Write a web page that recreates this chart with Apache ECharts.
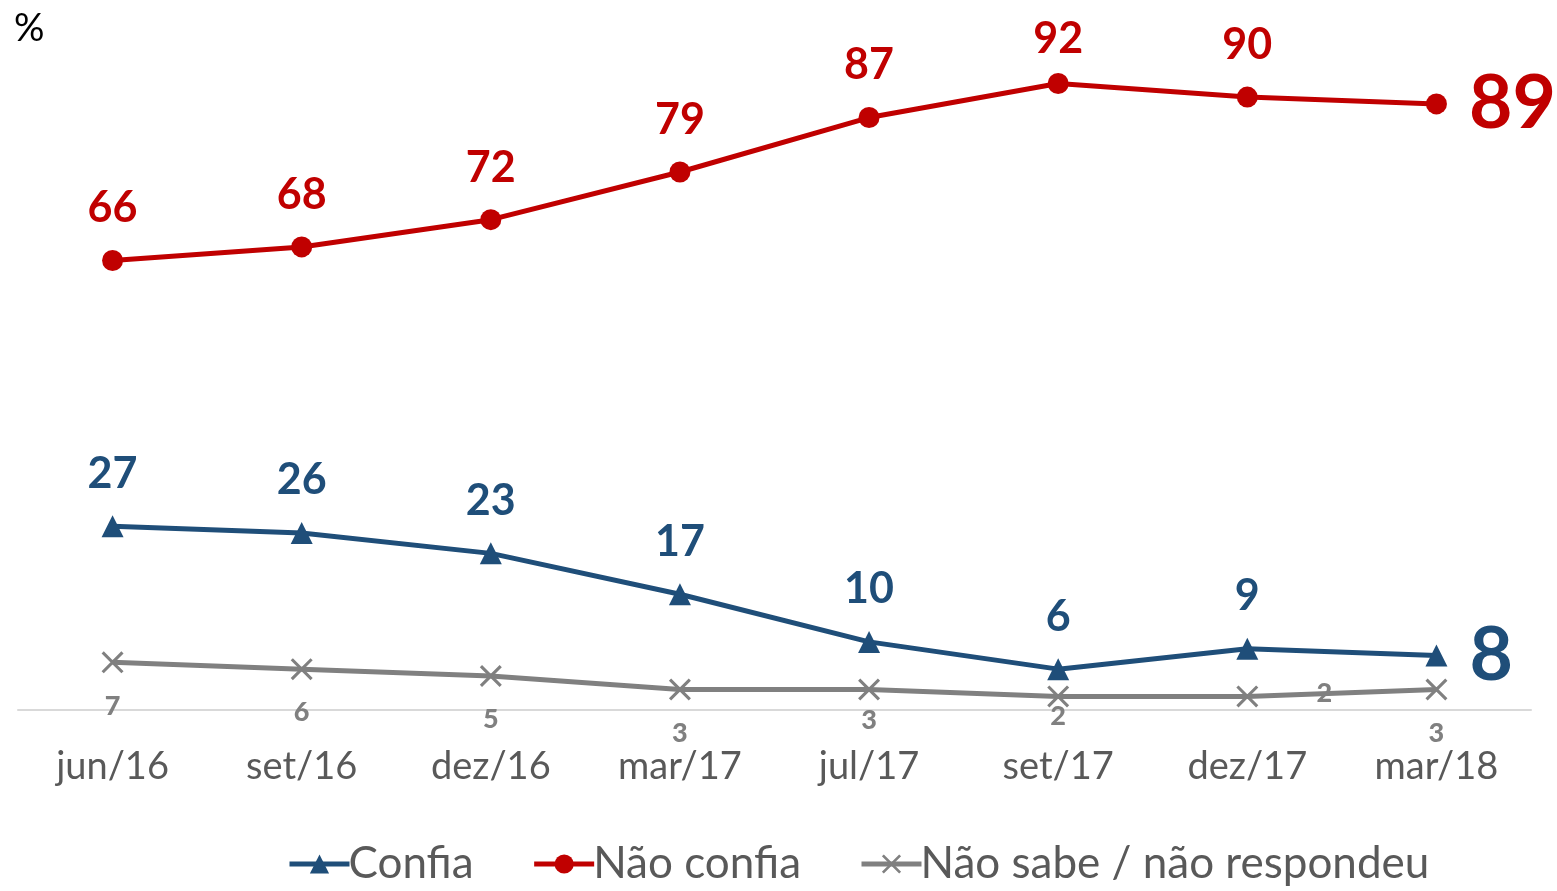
<!DOCTYPE html>
<html>
<head>
<meta charset="utf-8">
<script src="https://cdn.jsdelivr.net/npm/echarts@6/dist/echarts.min.js"></script>
<style>
  html, body { margin: 0; padding: 0; background: #ffffff; }
  #chart { width: 1557px; height: 891px; }
</style>
</head>
<body>
<div id="chart"></div>
<script>
var categories = ['jun/16', 'set/16', 'dez/16', 'mar/17', 'jul/17', 'set/17', 'dez/17', 'mar/18']
var confia = [27, 26, 23, 17, 10, 6, 9, 8]
var naoConfia = [66, 68, 72, 79, 87, 92, 90, 89]
var naoSabe = [7, 6, 5, 3, 3, 2, 2, 3]

var RED = '#C00000'
var BLUE = '#1F4E79'
var GRAY = '#808080'
var FONT = 'Lato, "Open Sans", sans-serif'

// último ponto com rótulo grande à direita
function withBigLast (values, color) {
  return values.map(function (v, i) {
    if (i !== values.length - 1) return v
    return {
      value: v,
      label: { position: 'right', distance: 22, fontSize: 75, color: color }
    }
  })
}

var redData = withBigLast(naoConfia, RED)
redData[5] = { value: naoConfia[5], label: { distance: 12 } }

// ajustes manuais dos rótulos cinzas, como no original
var grayOffsets = { 4: [0, -13], 5: [0, -24], 6: [77, 40] }
var grayData = naoSabe.map(function (v, i) {
  if (i === 6) {
    return { value: v, label: { position: 'top', offset: grayOffsets[i] } }
  }
  if (grayOffsets[i]) {
    return { value: v, label: { offset: grayOffsets[i] } }
  }
  return v
})

var chart = echarts.init(document.getElementById('chart'))
chart.setOption({
  animation: false,
  grid: { left: 18, right: 26, top: 29, bottom: 181 },
  graphic: [
    { type: 'text', left: 14, top: 10, style: { text: '%', font: '38px ' + FONT, fill: '#000' } }
  ],
  legend: {
    bottom: 0,
    left: 282,
    itemWidth: 60,
    itemHeight: 24,
    itemGap: 58,
    lineStyle: { width: 5 },
    textStyle: { fontSize: 44, color: '#595959', fontFamily: FONT, padding: [0, 0, 0, -6] },
    data: ['Confia', 'Não confia', 'Não sabe / não respondeu']
  },
  xAxis: {
    type: 'category',
    data: categories,
    boundaryGap: true,
    axisLine: { show: true, lineStyle: { color: '#D9D9D9', width: 2 } },
    axisTick: { show: false },
    axisLabel: { margin: 38, fontSize: 38, color: '#595959', fontFamily: FONT }
  },
  yAxis: {
    type: 'value',
    min: 0,
    max: 100,
    show: false,
    splitLine: { show: false }
  },
  series: [
    {
      name: 'Confia',
      type: 'line',
      data: withBigLast(confia, BLUE),
      symbol: 'triangle',
      symbolSize: 22,
      lineStyle: { color: BLUE, width: 5 },
      itemStyle: { color: BLUE },
      label: { show: true, position: 'top', distance: 20, fontSize: 43, fontWeight: 'bold', color: BLUE, fontFamily: FONT }
    },
    {
      name: 'Não confia',
      type: 'line',
      data: redData,
      symbol: 'circle',
      symbolSize: 21,
      lineStyle: { color: RED, width: 5 },
      itemStyle: { color: RED },
      label: { show: true, position: 'top', distance: 20, fontSize: 43, fontWeight: 'bold', color: RED, fontFamily: FONT }
    },
    {
      name: 'Não sabe / não respondeu',
      type: 'line',
      data: grayData,
      symbol: 'path://M0,1L1,0L10,9L9,10Z M9,0L10,1L1,10L0,9Z',
      symbolSize: 22,
      lineStyle: { color: GRAY, width: 5 },
      itemStyle: { color: GRAY },
      label: { show: true, position: 'bottom', distance: 19, fontSize: 27, fontWeight: 900, color: GRAY, fontFamily: FONT }
    }
  ]
})
</script>
</body>
</html>
